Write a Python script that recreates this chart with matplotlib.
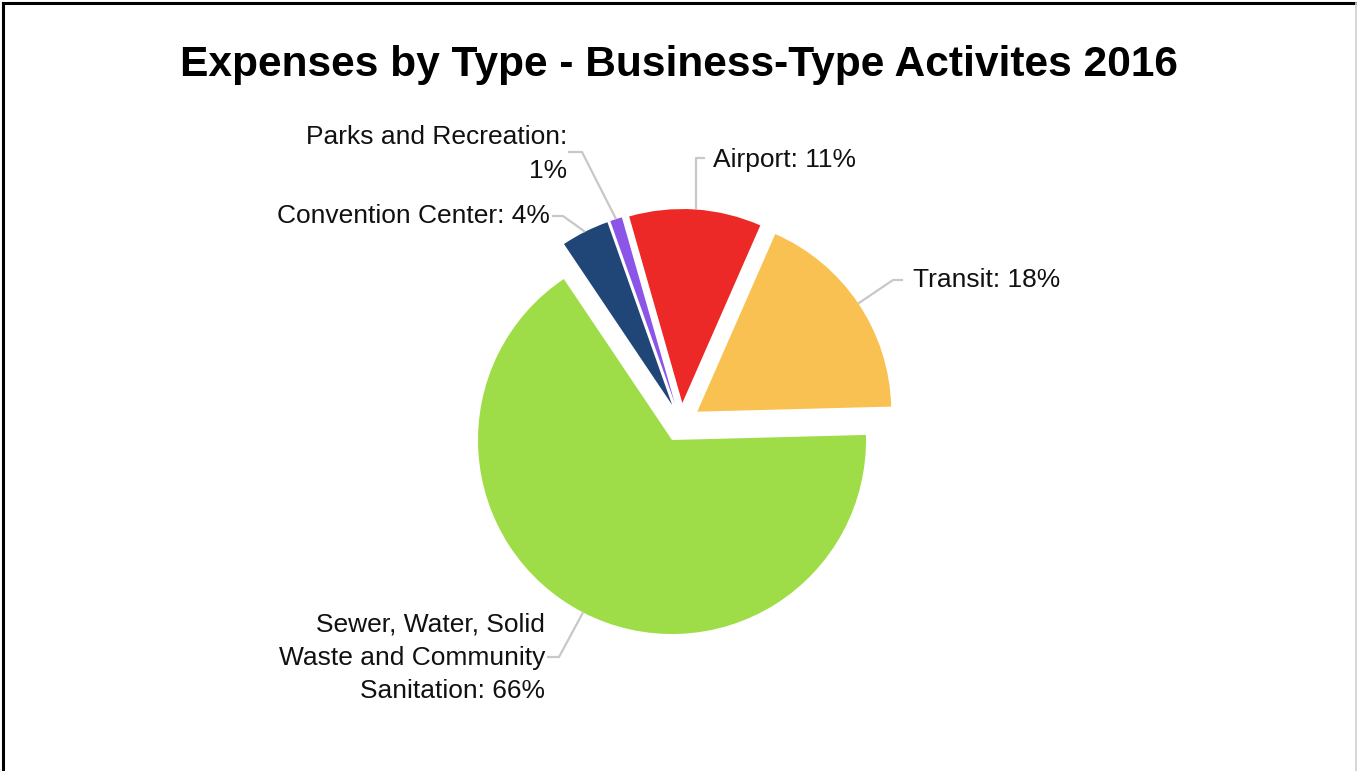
import numpy as np
import matplotlib.pyplot as plt
from matplotlib.lines import Line2D

plt.rcParams["font.family"] = ["Liberation Sans", "DejaVu Sans"]

# Expense shares, in pie order (counter-clockwise from 3 o'clock)
categories = [
    "Transit",
    "Airport",
    "Parks and Recreation",
    "Convention Center",
    "Sewer, Water, Solid Waste and Community Sanitation",
]
shares = [18, 11, 1, 4, 66]
label_texts = [
    "Transit: 18%",
    "Airport: 11%",
    "Parks and Recreation:\n1%",
    "Convention Center: 4%",
    "Sewer, Water, Solid\nWaste and Community\nSanitation: 66%",
]
colors = ["#F9C152", "#EC2927", "#8B55E8", "#1F4676", "#9EDC48"]

W, H = 1357, 771
fig = plt.figure(figsize=(W / 100, H / 100), dpi=100)
ax = fig.add_axes([0, 0, 1, 1])

center = (681, H - 422.6)
radius = 194
gap = 19.6

wedges, _ = ax.pie(
    shares,
    colors=colors,
    startangle=1.5,
    counterclock=True,
    explode=[gap] * len(shares),
    center=center,
    radius=radius,
    wedgeprops=dict(linewidth=0),
    frame=True,
)
ax.set_xlim(0, W)
ax.set_ylim(0, H)
ax.set_aspect("equal")
ax.axis("off")


def edge_point(w):
    mid = np.deg2rad((w.theta1 + w.theta2) / 2)
    cx, cy = w.center
    return cx + w.r * np.cos(mid), cy + w.r * np.sin(mid)


# leader elbows and label anchors (pixel space, y measured from top)
leaders = {
    "Transit": ([(893, 280), (903, 280)], (913, 280), "left"),
    "Airport": ([None, (705, 158)], (713, 160), "left"),
    "Parks and Recreation": ([(582, 152), (568, 152)], (567, 154), "right"),
    "Convention Center": ([(563, 216), (552, 216)], (550, 216), "right"),
    "Sewer, Water, Solid Waste and Community Sanitation": (
        [(559, 657), (547, 657)], (545, 658), "right"),
}

line_kw = dict(color="#C8C8C8", linewidth=1.6, solid_capstyle="butt")
for w, name, txt in zip(wedges, categories, label_texts):
    pts, (tx, ty), ha = leaders[name]
    sx, sy = edge_point(w)
    path = [(sx, sy)]
    for p in pts:
        if p is None:
            # straight up from the wedge edge
            path.append((sx, H - 158))
        else:
            path.append((p[0], H - p[1]))
    xs, ys = zip(*path)
    ax.plot(xs, ys, **line_kw)
    ax.text(tx, H - ty, txt, ha=ha, va="center", multialignment=ha,
            fontsize=19, color="#111111", linespacing=1.5)

fig.text(0.5, 1 - 65 / H, "Expenses by Type - Business-Type Activites 2016",
         ha="center", va="center", fontsize=30.6, fontweight="bold")

# frame around the chart
fig.add_artist(Line2D([2.5 / W, 2.5 / W], [0, 1 - 2.5 / H], color="black",
                      linewidth=2.2, transform=fig.transFigure))
fig.add_artist(Line2D([2.5 / W, 1], [1 - 2.5 / H, 1 - 2.5 / H], color="black",
                      linewidth=2.2, transform=fig.transFigure))
fig.add_artist(Line2D([1 - 1 / W, 1 - 1 / W], [0, 1 - 2.5 / H], color="#D0D0D0",
                      linewidth=1.2, transform=fig.transFigure))

fig.savefig("out.png", dpi=100, facecolor="white")
